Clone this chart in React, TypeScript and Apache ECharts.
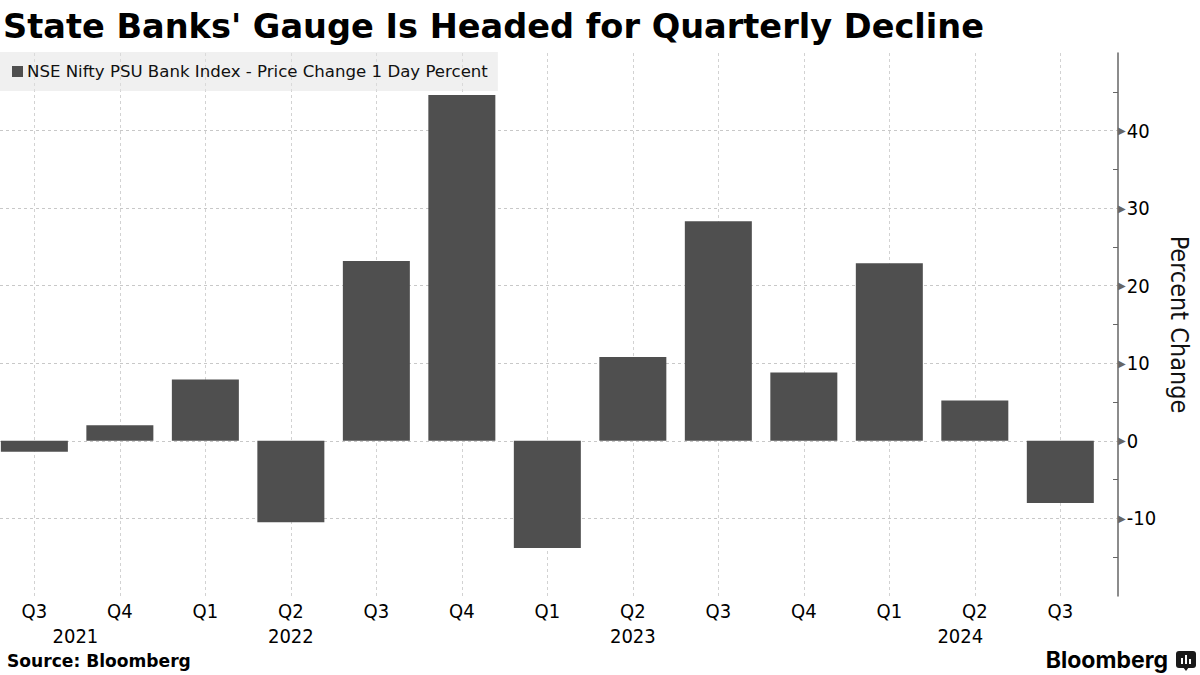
import React, { useEffect, useRef } from "react";
import * as echarts from "echarts";

const quarterLabels = ["Q3", "Q4", "Q1", "Q2", "Q3", "Q4", "Q1", "Q2", "Q3", "Q4", "Q1", "Q2", "Q3"];
const changeValues = [-1.4, 2.0, 7.9, -10.5, 23.2, 44.6, -13.8, 10.8, 28.3, 8.8, 22.9, 5.2, -8.0];
const yearLabels = ["2021", "2022", "2023", "2024"];
const yearPositions = [0.48, 3, 7, 10.83];
const seriesName = "NSE Nifty PSU Bank Index - Price Change 1 Day Percent";
const titleText = "State Banks' Gauge Is Headed for Quarterly Decline";
const sourceText = "Source: Bloomberg";
const yAxisName = "Percent Change";

const COND = "'DejaVu Sans Condensed', 'DejaVu Sans', sans-serif";
const SANS = "'DejaVu Sans', sans-serif";

export default function App() {
  const ref = useRef<HTMLDivElement>(null);

  useEffect(() => {
    if (!ref.current) return;
    const chart = echarts.init(ref.current, null, { renderer: "svg" });
    const quarterIdx = quarterLabels.map((_, i) => i);

    const option: any = {
      animation: false,
      backgroundColor: "#ffffff",
      title: {
        text: titleText,
        left: 3,
        top: 9,
        padding: 0,
        textStyle: { fontFamily: SANS, fontWeight: "bold", fontSize: 33.6, color: "#000" },
      },
      legend: {
        left: 0,
        top: 52,
        orient: "horizontal",
        backgroundColor: "rgba(225,225,225,0.5)",
        padding: [11, 10, 11, 12],
        itemWidth: 11,
        itemHeight: 11,
        icon: "rect",
        selectedMode: false,
        textStyle: { fontFamily: SANS, fontSize: 16.6, color: "#111", padding: [0, 0, 0, -1] },
        data: [{ name: seriesName, itemStyle: { color: "#4f4f4f" } }],
      },
      grid: { left: 0, right: 78, top: 53, bottom: 79, containLabel: false },
      xAxis: [
        {
          type: "value",
          min: -0.402,
          max: 12.675,
          axisLine: { show: false, onZero: false },
          splitLine: { show: false },
          axisTick: {
            show: true,
            inside: true,
            length: 543,
            customValues: quarterIdx,
            lineStyle: { color: "#d2d2d2", width: 1, type: [3, 3] },
          },
          axisLabel: {
            customValues: quarterIdx,
            margin: 5,
            fontFamily: COND,
            fontSize: 20,
            color: "#000",
            formatter: (v: number) => quarterLabels[Math.round(v)] ?? "",
          },
        },
        {
          type: "value",
          min: -0.402,
          max: 12.675,
          position: "bottom",
          offset: 25,
          axisLine: { show: false, onZero: false },
          splitLine: { show: false },
          axisTick: { show: false },
          axisLabel: {
            customValues: yearPositions,
            margin: 5,
            fontFamily: COND,
            fontSize: 20,
            color: "#000",
            formatter: (v: number) => {
              const k = yearPositions.findIndex((p) => Math.abs(p - v) < 1e-6);
              return k >= 0 ? yearLabels[k] : "";
            },
          },
        },
      ],
      yAxis: {
        type: "value",
        position: "right",
        min: -20,
        max: 50,
        interval: 10,
        name: yAxisName,
        nameLocation: "middle",
        nameRotate: -90,
        nameGap: 44,
        nameTextStyle: { fontFamily: COND, fontSize: 25, color: "#111" },
        axisLine: { show: true, onZero: false, lineStyle: { color: "#666", width: 1.5 } },
        axisTick: { show: false, inside: true },
        minorTick: { show: true, splitNumber: 2, length: 5, lineStyle: { color: "#666", width: 1 } },
        splitLine: {
          show: true,
          showMinLine: false,
          showMaxLine: false,
          lineStyle: { color: "#c8c8c8", width: 1, type: [3, 3] },
        },
        axisLabel: {
          showMinLabel: false,
          showMaxLabel: false,
          margin: 0,
          formatter: (v: number) => `{t|▶}{v|${v}}`,
          rich: {
            t: { fontFamily: SANS, fontSize: 10, color: "#666", padding: [0, 1, 0, 0] },
            v: { fontFamily: COND, fontSize: 20, color: "#000" },
          },
        },
      },
      series: [
        {
          name: seriesName,
          type: "bar",
          xAxisIndex: 0,
          barWidth: 67,
          z: 3,
          itemStyle: { color: "#4f4f4f" },
          data: changeValues.map((v, i) => [i, v]),
        },
      ],
      graphic: [
        {
          type: "text",
          left: 7,
          top: 652,
          style: { text: sourceText, fontFamily: SANS, fontWeight: "bold", fontSize: 17.1, fill: "#000" },
        },
        {
          type: "text",
          right: 32,
          top: 648,
          style: { text: "Bloomberg", fontFamily: "Inter, Roboto, sans-serif", fontWeight: "bold", fontSize: 23, fill: "#000" },
        },
        {
          type: "group",
          left: 1176,
          top: 651,
          children: [
            { type: "rect", shape: { x: 0, y: 0, width: 20, height: 17, r: 3 }, style: { fill: "#1a1a1a" } },
            { type: "polygon", shape: { points: [[7, 16], [13, 16], [10, 20]] }, style: { fill: "#1a1a1a" } },
            { type: "rect", shape: { x: 5, y: 7, width: 2, height: 6 }, style: { fill: "#fff" } },
            { type: "rect", shape: { x: 9, y: 4, width: 2, height: 9 }, style: { fill: "#fff" } },
            { type: "rect", shape: { x: 13, y: 8, width: 2, height: 5 }, style: { fill: "#fff" } },
          ],
        },
      ],
    };

    chart.setOption(option);
    return () => chart.dispose();
  }, []);

  return <div ref={ref} style={{ width: 1200, height: 675, position: "absolute", left: 0, top: 0 }} />;
}
